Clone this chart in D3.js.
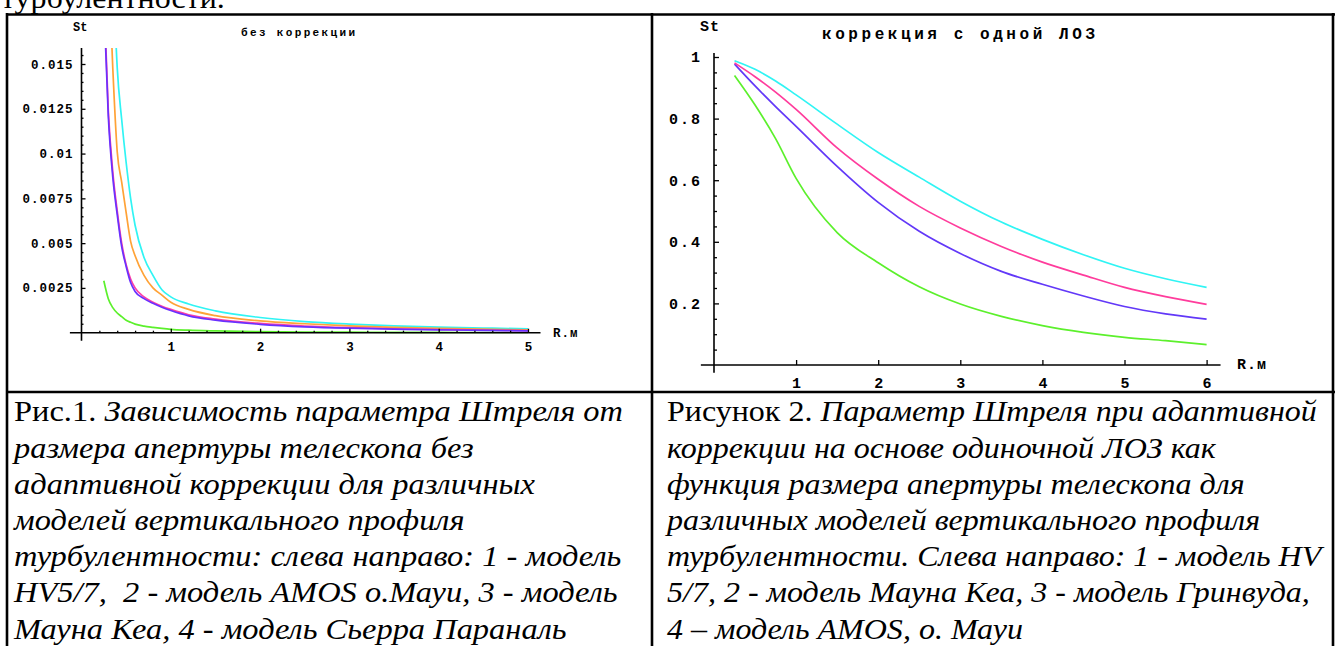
<!DOCTYPE html>
<html>
<head>
<meta charset="utf-8">
<script src="https://cdn.jsdelivr.net/npm/d3@7"></script>
<style>
body { margin: 0; background: #fff; }
svg { display: block; }
.tick line { stroke: #000; }
.tick text { font-family: "Liberation Mono", "Courier New", monospace; font-weight: bold; fill: #000; }
.lbl { font-family: "Liberation Mono", "Courier New", monospace; font-weight: bold; fill: #000; }
.cap { font-size: 30px; fill: #000; white-space: pre; }
</style>
</head>
<body>
<svg id="page" width="1335" height="646"></svg>
<script>
// ---- Рис.1: без коррекции ----
const rLeft = [0.25, 0.3, 0.35, 0.4, 0.45, 0.5, 0.55, 0.6, 0.7, 0.8, 0.9, 1.0, 1.2, 1.5, 2, 2.5, 3, 3.5, 4, 4.5, 5];
const leftGreen  = [0.0029, 0.0019, 0.0014, 0.0011, 0.0009, 0.0007, 0.00058, 0.00048, 0.00037, 0.0003, 0.00024, 0.00019, 0.00014, 0.0001, 0.00006, 0.00004, 0.00003, 0.00002, 0.000015, 0.00001, 0.00001];
const leftBlue   = [0.0185, 0.0121, 0.0087, 0.0066, 0.0048, 0.0037, 0.0028, 0.0023, 0.0019, 0.00164, 0.00142, 0.00124, 0.00094, 0.0007, 0.00047, 0.00033, 0.00025, 0.0002, 0.00016, 0.00013, 0.0001];
const leftPink   = [0.019, 0.0124, 0.009, 0.0068, 0.005, 0.0038, 0.003, 0.0025, 0.002, 0.0017, 0.00148, 0.0013, 0.001, 0.00076, 0.00052, 0.00037, 0.00028, 0.00022, 0.00018, 0.00015, 0.00012];
const leftOrange = [0.03, 0.021, 0.0148, 0.0101, 0.0084, 0.0067, 0.0051, 0.0043, 0.0032, 0.0025, 0.0021, 0.0017, 0.0013, 0.00095, 0.00066, 0.0005, 0.00038, 0.0003, 0.00024, 0.0002, 0.00016];
const leftCyan   = [0.042, 0.03, 0.021, 0.0148, 0.0119, 0.0095, 0.0075, 0.006, 0.0042, 0.0032, 0.0024, 0.002, 0.0016, 0.00122, 0.00085, 0.00062, 0.00048, 0.00038, 0.00031, 0.00026, 0.00022];
const leftYTicks = [0.0025, 0.005, 0.0075, 0.01, 0.0125, 0.015];
const leftYLabels = ['0.0025', '0.005', '0.0075', '0.01', '0.0125', '0.015'];
const leftXTicks = [1, 2, 3, 4, 5];

// ---- Рисунок 2: коррекция с одной ЛОЗ ----
const rRight = [0.25, 0.5, 0.75, 1, 1.5, 2, 2.5, 3, 3.5, 4, 4.5, 5, 5.5, 6];
const rightCyan  = [0.988, 0.96, 0.922, 0.877, 0.782, 0.69, 0.61, 0.532, 0.464, 0.408, 0.358, 0.314, 0.28, 0.252];
const rightPink  = [0.981, 0.936, 0.886, 0.83, 0.705, 0.603, 0.515, 0.445, 0.385, 0.334, 0.292, 0.252, 0.222, 0.197];
const rightBlue  = [0.977, 0.906, 0.839, 0.775, 0.645, 0.528, 0.434, 0.362, 0.304, 0.262, 0.224, 0.19, 0.166, 0.149];
const rightGreen = [0.94, 0.844, 0.735, 0.606, 0.43, 0.332, 0.254, 0.198, 0.158, 0.128, 0.106, 0.09, 0.079, 0.066];
const rightYTicks = [0.2, 0.4, 0.6, 0.8, 1];
const rightYLabels = ['0.2', '0.4', '0.6', '0.8', '1'];
const rightXTicks = [1, 2, 3, 4, 5, 6];

// captions
const topLine = 'турбулентности.';
const leftCaption = [
  ['Рис.1. ', 'Зависимость параметра Штреля от'],
  ['', 'размера апертуры телескопа без'],
  ['', 'адаптивной коррекции для различных'],
  ['', 'моделей вертикального профиля'],
  ['', 'турбулентности: слева направо: 1 - модель'],
  ['', 'HV5/7,  2 - модель AMOS о.Мауи, 3 - модель'],
  ['', 'Мауна Кеа, 4 - модель Сьерра Параналь']
];
const rightCaption = [
  ['Рисунок 2. ', 'Параметр Штреля при адаптивной'],
  ['', 'коррекции на основе одиночной ЛОЗ как'],
  ['', 'функция размера апертуры телескопа для'],
  ['', 'различных моделей вертикального профиля'],
  ['', 'турбулентности. Слева направо: 1 - модель HV'],
  ['', '5/7, 2 - модель Мауна Кеа, 3 - модель Гринвуда,'],
  ['', '4 – модель AMOS, о. Мауи']
];

const serif = '"Liberation Serif", "Times New Roman", Tinos, "DejaVu Serif", serif';
const svg = d3.select('#page');

// Mathematica style axes: lines cross at origin, ticks point inward
function drawAxes(g, x, y, cfg) {
  g.append('line')
    .attr('x1', x(cfg.xExt[0])).attr('x2', x(cfg.xExt[1]))
    .attr('y1', y(0)).attr('y2', y(0))
    .attr('stroke', '#000').attr('stroke-width', 1.6);
  g.append('line')
    .attr('x1', x(0)).attr('x2', x(0))
    .attr('y1', y(cfg.yExt[0])).attr('y2', y(cfg.yExt[1]))
    .attr('stroke', '#000').attr('stroke-width', 1.6);

  // minor ticks
  if (cfg.yMinor) {
    g.append('g').attr('transform', 'translate(' + x(0) + ',0)')
      .call(d3.axisLeft(y).tickValues(cfg.yMinor).tickSize(-cfg.minorLen).tickFormat(''))
      .call(s => s.select('.domain').remove());
  }
  if (cfg.xMinor) {
    g.append('g').attr('transform', 'translate(0,' + y(0) + ')')
      .call(d3.axisBottom(x).tickValues(cfg.xMinor).tickSize(-cfg.minorLen).tickFormat(''))
      .call(s => s.select('.domain').remove());
  }

  // major ticks + labels
  g.append('g').attr('transform', 'translate(' + x(0) + ',0)')
    .call(d3.axisLeft(y).tickValues(cfg.yTicks).tickSize(-cfg.majorLen)
      .tickPadding(cfg.yPad).tickFormat((d, i) => cfg.yLabels[i]))
    .call(s => s.select('.domain').remove())
    .selectAll('text').style('font-size', cfg.font + 'px').style('letter-spacing', cfg.ls + 'px');
  g.append('g').attr('transform', 'translate(0,' + y(0) + ')')
    .call(d3.axisBottom(x).tickValues(cfg.xTicks).tickSize(-cfg.majorLen)
      .tickPadding(cfg.xPad).tickFormat(d3.format('d')))
    .call(s => s.select('.domain').remove())
    .selectAll('text').style('font-size', cfg.font + 'px');
  g.selectAll('.tick line').attr('stroke-width', 1.3);
}

function drawCurves(g, x, y, rs, series, clipId) {
  const line = d3.line()
    .x((d, i) => x(rs[i]))
    .y(d => y(d))
    .curve(d3.curveMonotoneX);
  g.append('g').attr('clip-path', clipId ? 'url(#' + clipId + ')' : null)
    .selectAll('path').data(series).join('path')
    .attr('d', d => line(d.values))
    .attr('fill', 'none')
    .attr('stroke', d => d.color)
    .attr('stroke-width', 1.7);
}

// ---------- left plot ----------
const xL = d3.scaleLinear().domain([0, 5]).range([81.5, 528]);
const yL = d3.scaleLinear().domain([0, 0.015]).range([332.7, 64]);
const gL = svg.append('g');

svg.append('defs').append('clipPath').attr('id', 'clipL')
  .append('rect').attr('x', 60).attr('y', yL(0.0159)).attr('width', 500).attr('height', 320);

drawCurves(gL, xL, yL, rLeft, [
  { values: leftGreen, color: '#5cf02c' },
  { values: leftCyan, color: '#30f4f4' },
  { values: leftOrange, color: '#ffa236' },
  { values: leftPink, color: '#ff3fa4' },
  { values: leftBlue, color: '#6a30ff' }
], 'clipL');

drawAxes(gL, xL, yL, {
  xExt: [-0.13, 5.14], yExt: [-0.00045, 0.0159],
  yTicks: leftYTicks, yLabels: leftYLabels, xTicks: leftXTicks,
  yMinor: d3.range(0.0005, 0.0158, 0.0005).filter(v => Math.abs(v / 0.0025 - Math.round(v / 0.0025)) > 0.01),
  xMinor: d3.range(0.2, 5, 0.2).filter(v => Math.abs(v - Math.round(v)) > 0.01),
  majorLen: 4, minorLen: 2, yPad: 8, xPad: 9, font: 12.5, ls: 1
});

gL.append('text').attr('class', 'lbl').attr('x', 73).attr('y', 31)
  .style('font-size', '12px').text('St');
gL.append('text').attr('class', 'lbl').attr('x', 241).attr('y', 36)
  .style('font-size', '11px').attr('textLength', 114).attr('lengthAdjust', 'spacing')
  .text('без коррекции');
gL.append('text').attr('class', 'lbl').attr('x', 553).attr('y', 337)
  .style('font-size', '12.5px').style('letter-spacing', '1px').text('R.м');

// ---------- right plot ----------
const xR = d3.scaleLinear().domain([0, 6]).range([714, 1206.6]);
const yR = d3.scaleLinear().domain([0, 1]).range([365, 57]);
const gR = svg.append('g');

drawCurves(gR, xR, yR, rRight, [
  { values: rightGreen, color: '#5cf02c' },
  { values: rightBlue, color: '#6238f8' },
  { values: rightPink, color: '#ff3c9c' },
  { values: rightCyan, color: '#30f4f4' }
], null);

drawAxes(gR, xR, yR, {
  xExt: [-0.16, 6.17], yExt: [-0.025, 1.013],
  yTicks: rightYTicks, yLabels: rightYLabels, xTicks: rightXTicks,
  yMinor: d3.range(0.05, 1.0, 0.05).filter(v => Math.abs(v / 0.2 - Math.round(v / 0.2)) > 0.01),
  xMinor: null,
  majorLen: 5, minorLen: 3, yPad: 12, xPad: 12, font: 15, ls: 2
});

gR.append('text').attr('class', 'lbl').attr('x', 700).attr('y', 31)
  .style('font-size', '15px').style('letter-spacing', '1px').text('St');
gR.append('text').attr('class', 'lbl').attr('x', 822).attr('y', 39)
  .style('font-size', '16px').attr('textLength', 273).attr('lengthAdjust', 'spacing')
  .text('коррекция с одной ЛОЗ');
gR.append('text').attr('class', 'lbl').attr('x', 1237).attr('y', 369)
  .style('font-size', '15px').style('letter-spacing', '1px').text('R.м');

// ---------- table borders ----------
const border = svg.append('g').attr('stroke', '#000').attr('stroke-width', 2.6);
border.append('line').attr('x1', 6).attr('x2', 1335).attr('y1', 14.5).attr('y2', 14.5);
border.append('line').attr('x1', 6).attr('x2', 1335).attr('y1', 392).attr('y2', 392);
border.append('line').attr('x1', 7).attr('x2', 7).attr('y1', 13).attr('y2', 646);
border.append('line').attr('x1', 652).attr('x2', 652).attr('y1', 13).attr('y2', 646);
border.append('line').attr('x1', 1333).attr('x2', 1333).attr('y1', 13).attr('y2', 646);

// ---------- captions ----------
function captionBlock(lines) {
  const g = svg.append('g');
  lines.forEach((ln, i) => {
    const t = g.append('text').attr('class', 'cap').attr('font-family', serif)
      .attr('x', 0).attr('y', 421.5 + i * 36.2);
    if (ln[0]) t.append('tspan').text(ln[0]);
    t.append('tspan').attr('font-style', 'italic').text(ln[1]);
  });
  return g;
}
const capL = captionBlock(leftCaption);
const capR = captionBlock(rightCaption);
// the scanned text is slightly condensed: fit each column's first line to its width
const kL = 609 / capL.select('text').node().getComputedTextLength();
const kR = 650 / capR.select('text').node().getComputedTextLength();
capL.attr('transform', 'translate(14,0) scale(' + kL + ',1)');
capR.attr('transform', 'translate(667,0) scale(' + kR + ',1)');

svg.append('text').attr('class', 'cap').attr('font-family', serif)
  .attr('transform', 'translate(1,8) scale(' + kR + ',1)')
  .text(topLine);
</script>
</body>
</html>
